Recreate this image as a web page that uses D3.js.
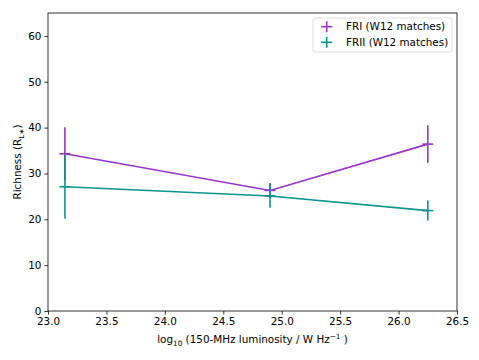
<!DOCTYPE html>
<html><head><meta charset="utf-8">
<script src="https://cdn.jsdelivr.net/npm/d3@7"></script>
<style>body{margin:0;background:#fff;} text{font-family:"DejaVu Sans",sans-serif;}</style>
</head><body><svg id="c" width="479" height="360"></svg>
<script>
const xTicks = [23.0, 23.5, 24.0, 24.5, 25.0, 25.5, 26.0, 26.5];
const yTicks = [0, 10, 20, 30, 40, 50, 60];
const seriesNames = ["FRI (W12 matches)", "FRII (W12 matches)"];
const seriesColors = ["#9a32cd", "#0b9490"];
const friX = [23.145, 24.9, 26.25];
const friY = [34.3, 26.3, 36.4];
const friErr = [5.8, 1.6, 4.1];
const friiX = [23.145, 24.9, 26.25];
const friiY = [27.1, 25.1, 21.9];
const friiErr = [7.0, 2.6, 2.2];

const svg = d3.select("#c");
const m = {l:48, r:457, t:13, b:311};
const x = d3.scaleLinear().domain([23.0, 26.5]).range([m.l, m.r]);
const y = d3.scaleLinear().domain([0, 65]).range([m.b, m.t]);

const series = [
  {name: seriesNames[0], color: seriesColors[0], xs: friX, ys: friY, es: friErr},
  {name: seriesNames[1], color: seriesColors[1], xs: friiX, ys: friiY, es: friiErr}
];

const plot = svg.append("g");
series.forEach(s => {
  const pts = s.xs.map((v,i)=>({x:v, y:s.ys[i], e:s.es[i]}));
  plot.append("path").datum(pts)
    .attr("d", d3.line().x(d=>x(d.x)).y(d=>y(d.y)))
    .attr("fill","none").attr("stroke", s.color).attr("stroke-width",1.6);
  plot.selectAll(null).data(pts).enter().append("line")
    .attr("x1", d=>x(d.x)).attr("x2", d=>x(d.x))
    .attr("y1", d=>y(d.y - d.e)).attr("y2", d=>y(d.y + d.e))
    .attr("stroke", s.color).attr("stroke-width",1.6);
  plot.selectAll(null).data(pts).enter().append("line")
    .attr("x1", d=>x(d.x)-5.5).attr("x2", d=>x(d.x)+5.5)
    .attr("y1", d=>y(d.y)).attr("y2", d=>y(d.y))
    .attr("stroke", s.color).attr("stroke-width",1.6);
});

// axes
const xa = svg.append("g").attr("transform",`translate(0,${m.b})`)
  .call(d3.axisBottom(x).tickValues(xTicks).tickFormat(d3.format(".1f")).tickSizeOuter(0).tickSize(3.6).tickPadding(3));
const ya = svg.append("g").attr("transform",`translate(${m.l},0)`)
  .call(d3.axisLeft(y).tickValues(yTicks).tickFormat(d3.format("d")).tickSizeOuter(0).tickSize(3.6).tickPadding(3));
[xa, ya].forEach(a => {
  a.selectAll("path").remove();
  a.selectAll("line").attr("stroke","#000").attr("stroke-width",0.8);
  a.selectAll("text").attr("font-size","10.4px").attr("fill","#000").style("font-family","DejaVu Sans");
});
svg.append("rect").attr("x",m.l).attr("y",m.t).attr("width",m.r-m.l).attr("height",m.b-m.t)
  .attr("fill","none").attr("stroke","#000").attr("stroke-width",0.8);

// labels
const xl = svg.append("text").attr("x",(m.l+m.r)/2).attr("y",343).attr("text-anchor","middle").attr("font-size","10.4px");
xl.append("tspan").text("log");
xl.append("tspan").text("10").attr("font-size","7.3px").attr("dy",2.5);
xl.append("tspan").text(" (150-MHz luminosity / W Hz").attr("dy",-2.5);
xl.append("tspan").text("−1").attr("font-size","7.3px").attr("dy",-4);
xl.append("tspan").text(" )").attr("dy",4);

const yl = svg.append("text").attr("transform",`translate(21,${(m.t+m.b)/2}) rotate(-90)`).attr("text-anchor","middle").attr("font-size","10.4px");
yl.append("tspan").text("Richness (R");
yl.append("tspan").text("L∗").attr("font-size","7.3px").attr("dy",2.5);
yl.append("tspan").text(")").attr("dy",-2.5);

// legend
const lg = svg.append("g");
lg.append("rect").attr("x",313).attr("y",18).attr("width",139).attr("height",34).attr("rx",2.5)
  .attr("fill","#fff").attr("fill-opacity",0.8).attr("stroke","#d6d6d6").attr("stroke-width",0.8);
series.forEach((s,i) => {
  const cy = 26.7 + i*15.6;
  lg.append("line").attr("x1",321.2).attr("x2",332.2).attr("y1",cy).attr("y2",cy).attr("stroke",s.color).attr("stroke-width",1.6);
  lg.append("line").attr("x1",326.7).attr("x2",326.7).attr("y1",cy-5.5).attr("y2",cy+5.5).attr("stroke",s.color).attr("stroke-width",1.6);
  lg.append("text").attr("x",346).attr("y",cy+3.7).attr("font-size","10.4px").text(s.name);
});
</script></body></html>
